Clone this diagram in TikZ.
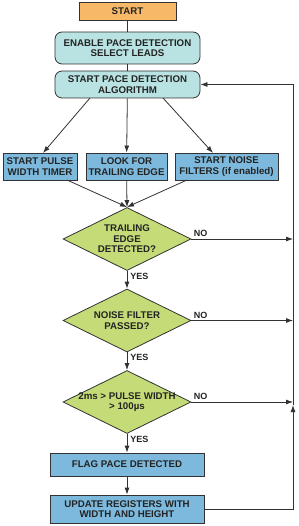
\documentclass[tikz,border=0pt]{standalone}
\usepackage{fontspec}
\setmainfont{Liberation Sans}
\usetikzlibrary{shapes.geometric,arrows.meta}
\definecolor{startfill}{RGB}{247,185,104}
\definecolor{tealfill}{RGB}{185,226,226}
\definecolor{bluefill}{RGB}{125,185,220}
\definecolor{decfill}{RGB}{197,219,120}
\definecolor{ink}{RGB}{35,35,35}
\definecolor{linec}{RGB}{50,50,50}
\begin{document}
\begin{tikzpicture}[x=1pt,y=-1pt,
  every node/.style={font=\fontsize{9.7}{10.5}\selectfont\bfseries, text=ink, align=center, inner sep=0pt},
  boxbase/.style={draw=linec, line width=0.8pt},
  startbox/.style={boxbase, fill=startfill, minimum height=18pt},
  roundbox/.style={boxbase, fill=tealfill, rounded corners=7pt, minimum width=145pt},
  bluebox/.style={boxbase, fill=bluefill, minimum height=27pt},
  decision/.style={boxbase, fill=decfill, shape=diamond, aspect=2.03, minimum width=128pt, minimum height=63pt, inner sep=0pt},
  dtext/.style={font=\fontsize{9.7}{10.5}\selectfont\bfseries, text=ink, align=center},
  conn/.style={draw=linec, line width=0.8pt},
  arr/.style={conn, -{Latex[length=7pt,width=5pt]}},
  lbl/.style={font=\fontsize{9}{10}\selectfont\bfseries}
]
\useasboundingbox (0,0) rectangle (298,526);
\node[startbox, minimum width=97pt] (start) at (127.5,11) {START};
\node[roundbox, minimum height=32pt] (enable) at (127.5,48) {ENABLE PACE DETECTION\\SELECT LEADS};
\node[roundbox, minimum height=27pt] (algo) at (127.5,84.5) {START PACE DETECTION\\ALGORITHM};
\node[bluebox, minimum width=74pt] (b1) at (40,166.5) {START PULSE\\WIDTH TIMER};
\node[bluebox, minimum width=81pt] (b2) at (126.5,166.5) {LOOK FOR\\TRAILING EDGE};
\node[bluebox, minimum width=103pt] (b3) at (226.5,166.5) {START NOISE\\FILTERS (if enabled)};
\node[decision, label={[dtext]center:TRAILING\\EDGE\\DETECTED?}] (d1) at (127,239) {};
\node[decision, label={[dtext]center:NOISE FILTER\\PASSED?}] (d2) at (127,320.5) {};
\node[decision, label={[dtext]center:2ms > PULSE WIDTH\\> 100\textmu s}] (d3) at (127,402) {};
\node[bluebox, minimum width=154pt, minimum height=23pt] (flag) at (127,464.5) {FLAG PACE DETECTED};
\node[bluebox, minimum width=154pt, minimum height=28pt] (update) at (127,509) {UPDATE REGISTERS WITH\\WIDTH AND HEIGHT};
\coordinate (fbA) at (293,405);
\coordinate (b1o) at (67,180);
\coordinate (b3o) at (187,180);
\coordinate (a1) at (90,98);
\coordinate (a3) at (163,98);
\coordinate (b1t) at (43,153);
\coordinate (b3t) at (213,153);
% connectors
\draw[conn] (start) -- (enable);
\draw[conn] (enable) -- (algo);
\draw[arr] (a1) -- (b1t);
\draw[arr] (algo) -- (b2);
\draw[arr] (a3) -- (b3t);
\draw[arr] (b1o) -- (d1.north);
\draw[arr] (b2) -- (d1.north);
\draw[arr] (b3o) -- (d1.north);
\draw[arr] (d1) -- node[lbl, anchor=west, xshift=3pt, pos=0.3] {YES} (d2);
\draw[arr] (d2) -- node[lbl, anchor=west, xshift=3pt, pos=0.3] {YES} (d3);
\draw[arr] (d3) -- node[lbl, anchor=west, xshift=3pt, pos=0.3] {YES} (flag);
\draw[arr] (flag) -- (update);
\draw[arr] (d1.east) -- node[lbl, pos=0, anchor=south west, xshift=2pt, yshift=2pt] {NO} (d1.east -| fbA);
\draw[arr] (d2.east) -- node[lbl, pos=0, anchor=south west, xshift=2pt, yshift=2pt] {NO} (d2.east -| fbA);
\draw[arr] (d3.east) -- node[lbl, pos=0, anchor=south west, xshift=2pt, yshift=2pt] {NO} (d3.east -| fbA);
\draw[arr] (update.east) -| (fbA);
\draw[arr] (fbA) |- (algo.east);
\end{tikzpicture}
\end{document}
